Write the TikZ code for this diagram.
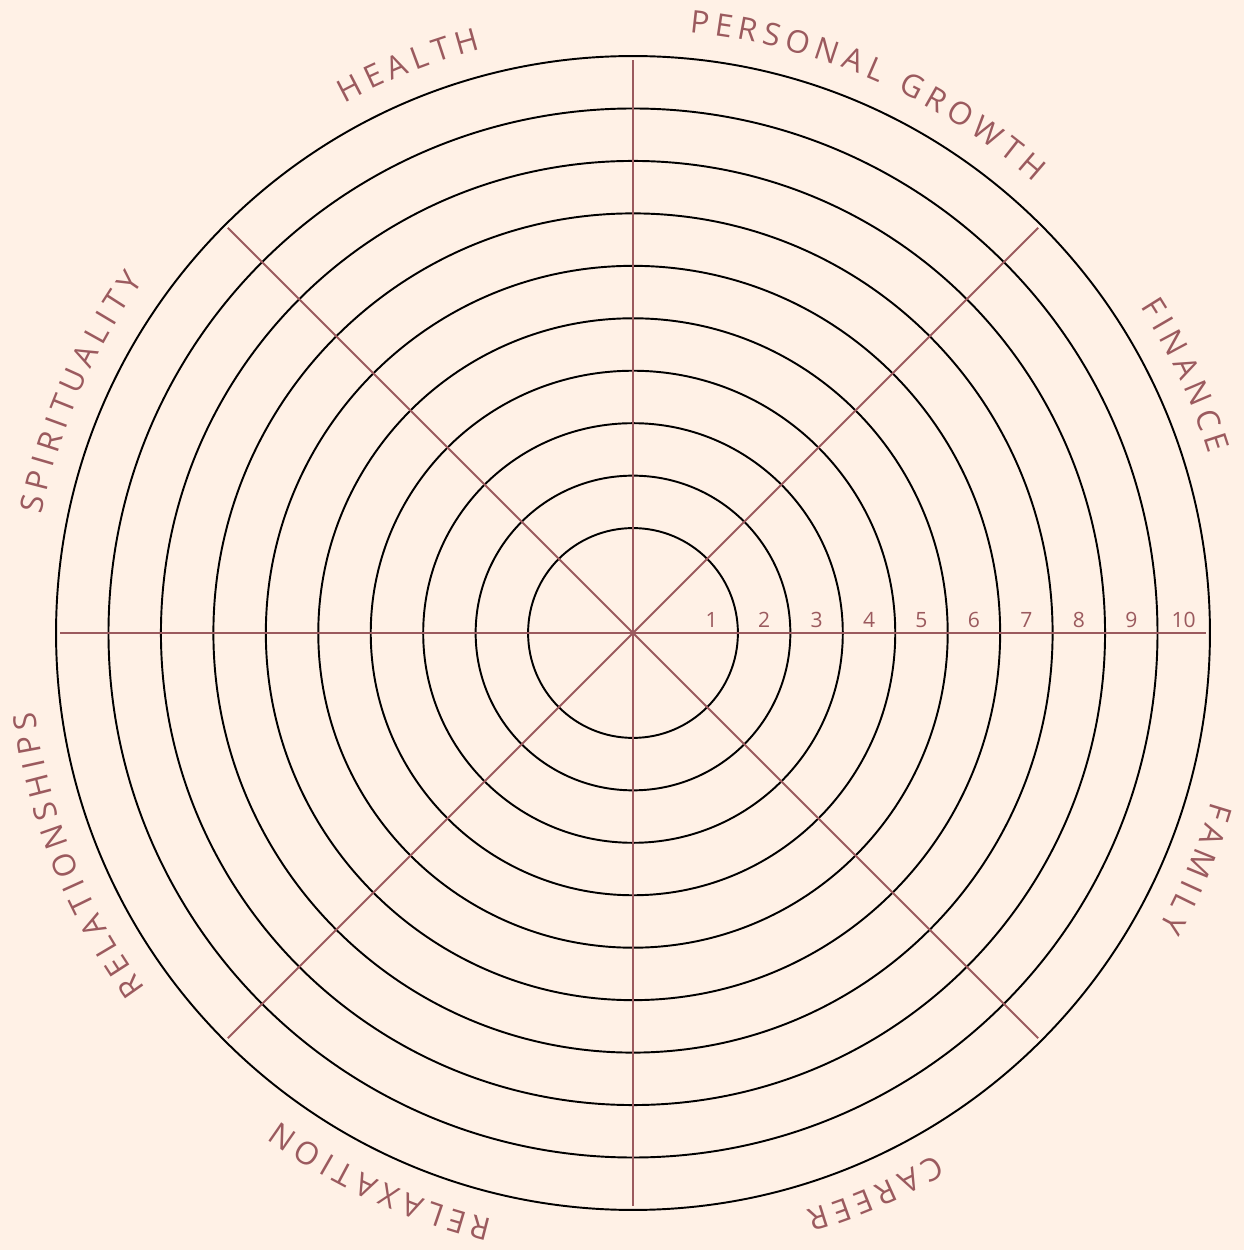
\documentclass[tikz,border=0pt]{standalone}
\usepackage{fontspec}
\setmainfont{Open Sans}
\usetikzlibrary{decorations.text}
\definecolor{wheelbg}{HTML}{FFF1E6}
\definecolor{wheelrose}{HTML}{9B5A5E}
\newcommand{\areafont}{\fontsize{17.8pt}{20pt}\selectfont}

\begin{document}
\begin{tikzpicture}[
        x=0.02cm, y=0.02cm,
        ring/.style={draw=black, line width=1.1pt},
        spoke/.style={draw=wheelrose, line width=1.1pt},
        num/.style={text=wheelrose, font=\fontsize{12pt}{14pt}\selectfont, anchor=base, inner sep=0pt},
        area/.style={decorate, decoration={text along path, text align=center, text color=wheelrose, text={|\areafont|#1}}}
      ]
      \fill[wheelbg] (-633,-617) rectangle (611,633);
      \useasboundingbox (-633,-617) rectangle (611,633);
      \coordinate (c) at (0,0);
      % rings
      \foreach \k in {1,...,10}
        \draw[ring] (c) circle ({52.45*(\k+1)});
      % spokes
      \foreach \a in {0,45,...,315} {
        \coordinate (s\a) at (\a:573);
        \draw[spoke] (c) -- (s\a);
      }
      % scale
      \foreach \k in {1,...,10}
        \node[num] (n\k) at ({52.45*(\k+0.5)},5) {\k};
      % areas
      \path[area={P{\kern3.3pt}E{\kern3.3pt}R{\kern3.3pt}S{\kern3.3pt}O{\kern3.3pt}N{\kern3.3pt}A{\kern3.3pt}L{\kern3.3pt} {\kern3.3pt}G{\kern3.3pt}R{\kern3.3pt}O{\kern3.3pt}W{\kern3.3pt}T{\kern3.3pt}H}]
        (116.5:603) arc[start angle=116.5, end angle=16.5, radius=603];
      \path[area={F{\kern3.3pt}I{\kern3.3pt}N{\kern3.3pt}A{\kern3.3pt}N{\kern3.3pt}C{\kern3.3pt}E}]
        (75:603) arc[start angle=75, end angle=-25, radius=603];
      \path[area={F{\kern3.3pt}A{\kern3.3pt}M{\kern3.3pt}I{\kern3.3pt}L{\kern3.3pt}Y}]
        (27.3:603) arc[start angle=27.3, end angle=-72.7, radius=603];
      \path[area={C{\kern3.3pt}A{\kern3.3pt}R{\kern3.3pt}E{\kern3.3pt}E{\kern3.3pt}R}]
        (-16.6:603) arc[start angle=-16.6, end angle=-116.6, radius=603];
      \path[area={R{\kern3.3pt}E{\kern3.3pt}L{\kern3.3pt}A{\kern3.3pt}X{\kern3.3pt}A{\kern3.3pt}T{\kern3.3pt}I{\kern3.3pt}O{\kern3.3pt}N}]
        (-64.7:603) arc[start angle=-64.7, end angle=-164.7, radius=603];
      \path[area={R{\kern3.3pt}E{\kern3.3pt}L{\kern3.3pt}A{\kern3.3pt}T{\kern3.3pt}I{\kern3.3pt}O{\kern3.3pt}N{\kern3.3pt}S{\kern3.3pt}H{\kern3.3pt}I{\kern3.3pt}P{\kern3.3pt}S}]
        (251.8:603) arc[start angle=251.8, end angle=151.8, radius=603];
      \path[area={S{\kern3.3pt}P{\kern3.3pt}I{\kern3.3pt}R{\kern3.3pt}I{\kern3.3pt}T{\kern3.3pt}U{\kern3.3pt}A{\kern3.3pt}L{\kern3.3pt}I{\kern3.3pt}T{\kern3.3pt}Y}]
        (206.5:603) arc[start angle=206.5, end angle=106.5, radius=603];
      \path[area={H{\kern3.3pt}E{\kern3.3pt}A{\kern3.3pt}L{\kern3.3pt}T{\kern3.3pt}H}]
        (161.6:603) arc[start angle=161.6, end angle=61.6, radius=603];
    \end{tikzpicture}
\end{document}
